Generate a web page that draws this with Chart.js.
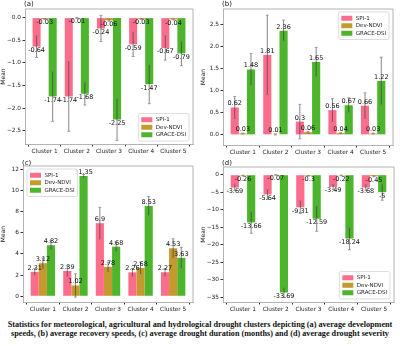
<!DOCTYPE html>
<html>
<head>
<meta charset="utf-8">
<script src="https://cdn.jsdelivr.net/npm/chart.js@4/dist/chart.umd.min.js"></script>
<style>
  body { margin: 0; background: #fff; }
  #wrap { position: relative; width: 400px; height: 346px; overflow: hidden; }
  .panel { position: absolute; width: 200px; height: 160px; }
  #caption {
    position: absolute; left: 0; top: 320px; width: 400px;
    text-align: center; font: bold 8.2px "Liberation Serif", serif;
    line-height: 9px; color: #111;
  }
</style>
</head>
<body>
<div id="wrap">
  <div class="panel" style="left:0;top:0"><canvas id="chart-a" width="200" height="160"></canvas></div>
  <div class="panel" style="left:200px;top:0"><canvas id="chart-b" width="200" height="160"></canvas></div>
  <div class="panel" style="left:0;top:160px"><canvas id="chart-c" width="200" height="160"></canvas></div>
  <div class="panel" style="left:200px;top:160px"><canvas id="chart-d" width="200" height="160"></canvas></div>
  <div id="caption">Statistics for meteorological, agricultural and hydrological drought clusters depicting (a) average development<br>speeds, (b) average recovery speeds, (c) average drought duration (months) and (d) average drought severity</div>
</div>
<script>
const clusters = ['Cluster 1', 'Cluster 2', 'Cluster 3', 'Cluster 4', 'Cluster 5'];
const seriesNames = ['SPI-1', 'Dev-NDVI', 'GRACE-DSI'];
const seriesColors = ['#fc6d8b', '#c49a2e', '#4cb52c'];

// (a) average development speeds
const devSpi = [-0.64, -1.74, -0.24, -0.59, -0.67];
const devNdvi = [-0.03, -0.01, -0.06, -0.03, -0.04];
const devGrace = [-1.74, -1.68, -2.25, -1.47, -0.79];
const devSpiErr = [0.24, 0.77, 0.29, 0.27, 0.27];
const devNdviErr = [0.01, 0.01, 0.02, 0.01, 0.01];
const devGraceErr = [0.55, 0.25, 0.46, 0.43, 0.27];
const devTicks = [0, -0.5, -1, -1.5, -2, -2.5];

// (b) average recovery speeds
const recSpi = [0.62, 1.81, 0.3, 0.56, 0.66];
const recNdvi = [0.03, 0.01, 0.06, 0.04, 0.03];
const recGrace = [1.48, 2.36, 1.65, 0.67, 1.22];
const recSpiErr = [0.25, 0.9, 0.39, 0.26, 0.29];
const recNdviErr = [0.01, 0.01, 0.02, 0.01, 0.01];
const recGraceErr = [0.36, 0.24, 0.33, 0.17, 0.54];
const recTicks = [0, 0.5, 1, 1.5, 2, 2.5];

// (c) average drought duration (months)
const durSpi = [2.31, 2.39, 6.9, 2.26, 2.27];
const durNdvi = [3.12, 1.02, 2.78, 2.68, 4.53];
const durGrace = [4.82, 11.35, 4.68, 8.53, 3.63];
const durSpiErr = [0.3, 0.5, 1.5, 0.35, 0.35];
const durNdviErr = [0.5, 1.1, 0.45, 0.55, 0.9];
const durGraceErr = [0.45, 0.15, 0.45, 0.9, 1.0];
const durTicks = [0, 2, 4, 6, 8, 10, 12];

// (d) average drought severity
const sevSpi = [-3.69, -5.64, -9.31, -3.49, -3.68];
const sevNdvi = [-0.26, -0.07, -0.3, -0.22, -0.45];
const sevGrace = [-13.66, -33.69, -12.59, -18.24, -5];
const sevSpiErr = [0.8, 1.4, 1.8, 0.7, 0.8];
const sevNdviErr = [0.1, 0.05, 0.1, 0.1, 0.15];
const sevGraceErr = [3.1, 1.4, 3.6, 3.2, 2.3];
const sevTicks = [0, -5, -10, -15, -20, -25, -30, -35];

const FONT = '"DejaVu Sans", sans-serif';
const minus = s => String(s).replace('-', '\u2212');

const panelPlugin = {
    id: 'panel',
    afterDatasetsDraw(chart) {
        const p = chart.options.plugins.panel;
        const ctx = chart.ctx;
        const y = chart.scales.y;
        ctx.save();
        // error bars
        chart.data.datasets.forEach((ds, i) => {
            const meta = chart.getDatasetMeta(i);
            meta.data.forEach((bar, j) => {
                const v = p.values[i][j], e = p.errors[i][j];
                const y1 = y.getPixelForValue(v - e), y2 = y.getPixelForValue(v + e);
                ctx.strokeStyle = 'rgba(50,50,50,0.75)';
                ctx.lineWidth = 0.8;
                ctx.beginPath();
                ctx.moveTo(bar.x, y1); ctx.lineTo(bar.x, y2);
                ctx.stroke();
                ctx.strokeStyle = 'rgba(130,130,130,0.9)';
                ctx.beginPath();
                ctx.moveTo(bar.x - 1.5, y1); ctx.lineTo(bar.x + 1.5, y1);
                ctx.moveTo(bar.x - 1.5, y2); ctx.lineTo(bar.x + 1.5, y2);
                ctx.stroke();
            });
        });
        // value labels
        ctx.fillStyle = '#111';
        ctx.font = '6.5px ' + FONT;
        ctx.textAlign = 'center';
        chart.data.datasets.forEach((ds, i) => {
            chart.getDatasetMeta(i).data.forEach((bar, j) => {
                const v = p.values[i][j];
                ctx.textBaseline = v < 0 ? 'top' : 'bottom';
                ctx.fillText(String(v), bar.x, bar.y + (v < 0 ? 0.5 : -0.5));
            });
        });
        ctx.restore();
    },
    afterDraw(chart) {
        const p = chart.options.plugins.panel;
        const ctx = chart.ctx;
        const a = chart.chartArea;
        ctx.save();
        // top and right frame
        ctx.strokeStyle = '#a0a0a0';
        ctx.lineWidth = 0.8;
        ctx.beginPath();
        ctx.moveTo(a.left, a.top); ctx.lineTo(a.right, a.top); ctx.lineTo(a.right, a.bottom);
        ctx.stroke();
        // panel letter
        ctx.fillStyle = '#111';
        ctx.font = '7px ' + FONT;
        ctx.textAlign = 'left';
        ctx.textBaseline = 'middle';
        ctx.fillText(p.letter, a.left - 1, Math.max(a.top - 5, 3.5));
        // legend
        ctx.font = '5.5px ' + FONT;
        const tw = Math.max(...seriesNames.map(n => ctx.measureText(n).width));
        const patchW = 11, patchH = 5, pad = 3, gap = 3.5, rowH = 7.5;
        const w = pad + patchW + gap + tw + pad;
        const h = rowH * 3 + pad * 2 - 1;
        const lx = p.legend.includes('right') ? a.right - 4 - w : a.left + 4;
        const ly = p.legend.includes('upper') ? a.top + 3 : a.bottom - 3 - h;
        ctx.fillStyle = 'rgba(255,255,255,0.85)';
        ctx.strokeStyle = '#d4d4d4';
        ctx.beginPath();
        ctx.roundRect(lx, ly, w, h, 2);
        ctx.fill(); ctx.stroke();
        seriesNames.forEach((n, i) => {
            const cy = ly + pad + rowH * i + rowH / 2 - 0.5;
            ctx.fillStyle = seriesColors[i];
            ctx.fillRect(lx + pad, cy - patchH / 2, patchW, patchH);
            ctx.fillStyle = '#222';
            ctx.fillText(n, lx + pad + patchW + gap, cy);
        });
        ctx.restore();
    }
};

function makePanel(id, letter, values, errors, ticks, yMin, yMax, box, legend) {
    const fmt = ticks.some(t => !Number.isInteger(t)) ? (v => minus(v.toFixed(1))) : (v => minus(v));
    new Chart(document.getElementById(id), {
        type: 'bar',
        data: {
            datasets: values.map((vals, i) => ({
                label: seriesNames[i],
                data: vals.map((v, j) => ({ x: j, y: v })),
                backgroundColor: seriesColors[i],
                borderWidth: 0,
                barPercentage: 1,
                categoryPercentage: 0.75,
            }))
        },
        options: {
            responsive: false,
            animation: false,
            layout: { padding: { top: box.top, right: 200 - box.right, left: 0, bottom: 0 } },
            scales: {
                x: {
                    type: 'linear',
                    min: -0.61,
                    max: 4.61,
                    offset: false,
                    afterBuildTicks: s => { s.ticks = clusters.map((c, i) => ({ value: i })); },
                    afterFit: s => { s.height = 160 - box.bottom; },
                    ticks: {
                        callback: v => clusters[v],
                        font: { family: FONT, size: 5.8 },
                        color: '#222',
                        padding: 1.5,
                        maxRotation: 0,
                        autoSkip: false,
                    },
                    grid: { drawOnChartArea: false, drawTicks: true, tickLength: 2.5, color: '#333' },
                    border: { color: '#a0a0a0', width: 0.8 },
                },
                y: {
                    min: yMin,
                    max: yMax,
                    afterBuildTicks: s => { s.ticks = ticks.map(t => ({ value: t })); },
                    afterFit: s => { s.width = box.left; },
                    ticks: {
                        callback: v => fmt(v),
                        font: { family: FONT, size: 5.8 },
                        color: '#222',
                        padding: 1.5,
                    },
                    title: {
                        display: true,
                        text: 'Mean',
                        font: { family: FONT, size: 6 },
                        color: '#222',
                        padding: 0,
                    },
                    grid: { drawOnChartArea: false, drawTicks: true, tickLength: 2.5, color: '#333' },
                    border: { color: '#a0a0a0', width: 0.8 },
                }
            },
            plugins: {
                legend: { display: false },
                tooltip: { enabled: false },
                panel: { letter, values, errors, legend },
            }
        },
        plugins: [panelPlugin]
    });
}

makePanel('chart-a', '(a)', [devSpi, devNdvi, devGrace], [devSpiErr, devNdviErr, devGraceErr],
    devTicks, -2.79, 0.19, { left: 25, right: 193, top: 9, bottom: 144 }, 'lower right');
makePanel('chart-b', '(b)', [recSpi, recNdvi, recGrace], [recSpiErr, recNdviErr, recGraceErr],
    recTicks, -0.23, 2.85, { left: 23, right: 193, top: 9, bottom: 145 }, 'upper right');
makePanel('chart-c', '(c)', [durSpi, durNdvi, durGrace], [durSpiErr, durNdviErr, durGraceErr],
    durTicks, -0.54, 12.3, { left: 23, right: 193, top: 6, bottom: 142 }, 'upper left');
makePanel('chart-d', '(d)', [sevSpi, sevNdvi, sevGrace], [sevSpiErr, sevNdviErr, sevGraceErr],
    sevTicks, -36.4, 2.2, { left: 23, right: 194, top: 7, bottom: 142 }, 'lower right');
</script>
</body>
</html>
